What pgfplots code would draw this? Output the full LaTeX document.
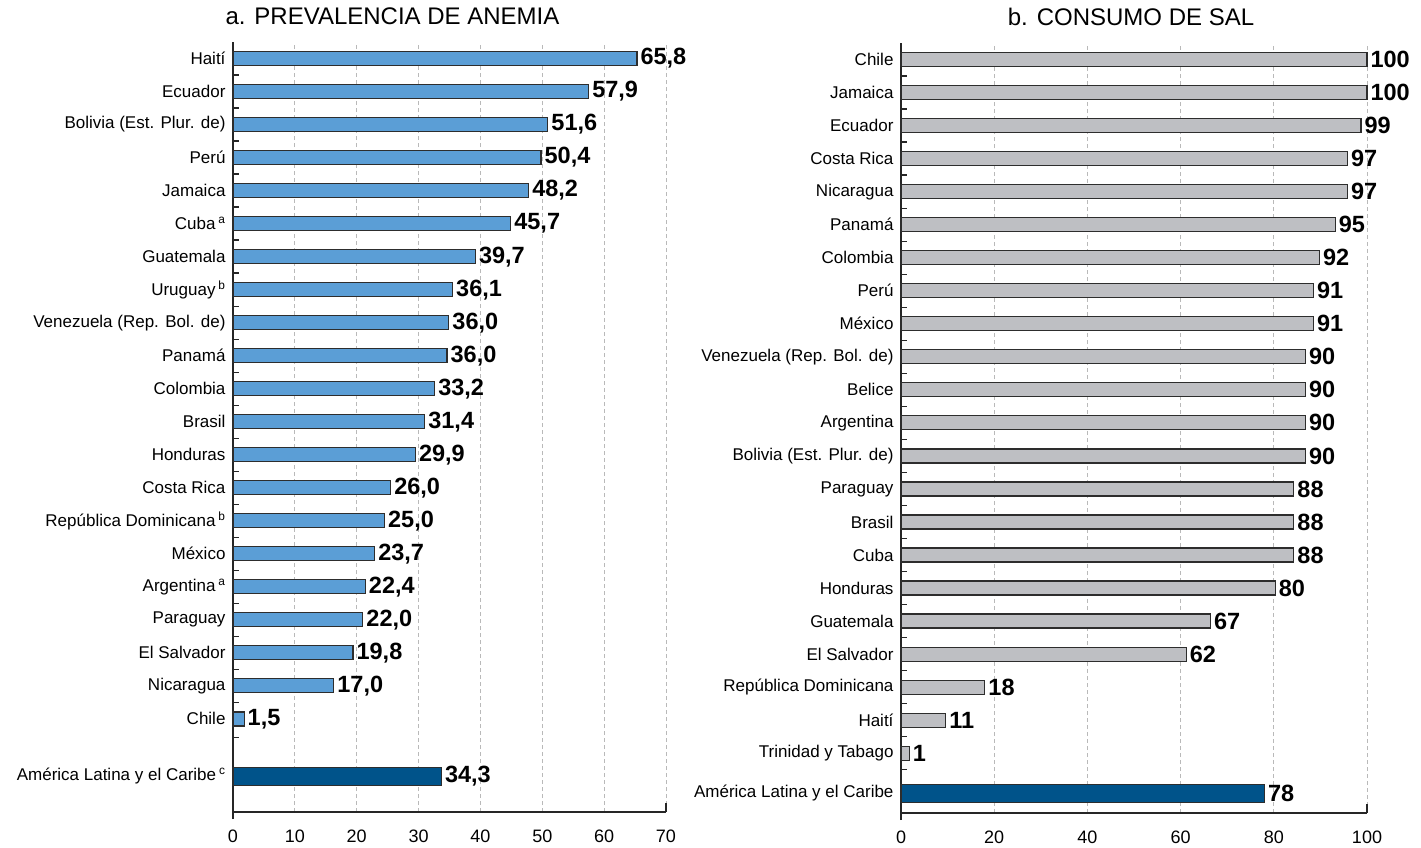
\documentclass[border=0pt]{standalone}
\usepackage{fontspec}
\setmainfont{Liberation Sans}
\usepackage{pgfplots}
\usepackage{pgfplotstable}
\pgfplotsset{compat=1.18}
\definecolor{lblue}{RGB}{91,158,214}
\definecolor{dblue}{RGB}{0,83,138}
\definecolor{lgray}{RGB}{190,191,195}
\definecolor{edge}{RGB}{45,45,45}
\definecolor{gridc}{RGB}{185,185,185}

% y = position, x = bar length as drawn, lab = printed value
\pgfplotstableread{
y x lab
21.74 65.3 65,8
20.74 57.5 57,9
19.74 50.9 51,6
18.74 49.8 50,4
17.74 47.8 48,2
16.74 44.9 45,7
15.74 39.2 39,7
14.74 35.5 36,1
13.74 34.9 36,0
12.74 34.6 36,0
11.74 32.6 33,2
10.74 31.0 31,4
9.74 29.5 29,9
8.74 25.5 26,0
7.74 24.5 25,0
6.74 22.9 23,7
5.74 21.4 22,4
4.74 21.0 22,0
3.74 19.4 19,8
2.74 16.3 17,0
1.74 1.8 1,5
}\anemia

\pgfplotstableread{
y x lab
0 33.7 34,3
}\anemiaalc

\pgfplotstableread{
y x lab
22.21 100 100
21.21 100 100
20.21 98.7 99
19.21 95.8 97
18.21 95.8 97
17.21 93.2 95
16.21 89.8 92
15.21 88.5 91
14.21 88.5 91
13.21 86.8 90
12.21 86.8 90
11.21 86.8 90
10.21 86.8 90
9.21 84.3 88
8.21 84.3 88
7.21 84.3 88
6.21 80.3 80
5.21 66.4 67
4.21 61.2 62
3.21 18.0 18
2.21 9.6 11
1.21 1.8 1
}\sal

\pgfplotstableread{
y x lab
0 78 78
}\salalc

\pgfplotsset{
 common/.style={
  scale only axis, height=770pt, clip=false,
  axis x line*=bottom, axis y line*=left,
  x axis line style={-, line width=1.2pt, color=black!85},
  y axis line style={-, line width=2.4pt, color=black!85, shorten <=-7pt},
  xmajorgrids,
  grid style={gridc, line width=0.8pt, dash pattern=on 4pt off 3pt},
  major tick length=0pt, minor tick length=6pt, tick align=inside,
  ytick pos=left,
  every minor tick/.append style={line width=1.3pt, black!85},
  yticklabel style={font=\fontsize{17}{20}\selectfont, xshift=-4pt},
  xticklabel style={font=\fontsize{18}{20}\selectfont, yshift=-14pt},
  /pgf/number format/assume math mode=true,
  title style={font=\fontsize{24}{28}\selectfont, at={(0.5,1)}, anchor=base, yshift=11.7pt},
  every node near coord/.append style={anchor=west, font=\fontsize{23.5}{26}\selectfont\bfseries, inner xsep=3pt, inner ysep=0pt, text=black},
 },
 bars/.style={xbar, bar shift=0pt, draw=edge, line width=1.2pt,
   point meta=explicit symbolic, nodes near coords={\pgfplotspointmeta}},
}

\begin{document}
\begin{tikzpicture}
\path[use as bounding box] (0pt,0pt) rectangle (1421pt,-847pt);

\begin{axis}[common,
  at={(233pt,-812pt)}, anchor=south west, width=433pt,
  xmin=0, xmax=70, ymin=-1.08, ymax=22.24,
  xtick={0,10,20,30,40,50,60,70},
  ytick={0,1.74,2.74,3.74,4.74,5.74,6.74,7.74,8.74,9.74,10.74,11.74,12.74,13.74,14.74,15.74,16.74,17.74,18.74,19.74,20.74,21.74},
  yticklabels={América Latina y el Caribe\,\textsuperscript{c}, Chile, Nicaragua, El Salvador, Paraguay, Argentina\,\textsuperscript{a}, México, República Dominicana\,\textsuperscript{b}, Costa Rica, Honduras, Brasil, Colombia, Panamá, Venezuela (Rep. Bol. de), Uruguay\,\textsuperscript{b}, Guatemala, Cuba\,\textsuperscript{a}, Jamaica, Perú, Bolivia (Est. Plur. de), Ecuador, Haití},
  minor ytick={1.17,2.24,3.24,4.24,5.24,6.24,7.24,8.24,9.24,10.24,11.24,12.24,13.24,14.24,15.24,16.24,17.24,18.24,19.24,20.24,21.24},
  title={a. PREVALENCIA DE ANEMIA},
  title style={xshift=-57pt},
]
\addplot[bars, bar width=14pt, fill=lblue] table[x=x, y=y, meta=lab]{\anemia};
\addplot[bars, bar width=18pt, fill=dblue] table[x=x, y=y, meta=lab]{\anemiaalc};
\draw[line width=1.2pt, black!85] (axis cs:70,-1.08) -- ++(0pt,9pt);
\end{axis}

\begin{axis}[common,
  at={(901pt,-813pt)}, anchor=south west, width=466pt,
  xmin=0, xmax=100, ymin=-0.6, ymax=22.71,
  xtick={0,20,40,60,80,100},
  ytick={0,1.21,2.21,3.21,4.21,5.21,6.21,7.21,8.21,9.21,10.21,11.21,12.21,13.21,14.21,15.21,16.21,17.21,18.21,19.21,20.21,21.21,22.21},
  yticklabels={América Latina y el Caribe, Trinidad y Tabago, Haití, República Dominicana, El Salvador, Guatemala, Honduras, Cuba, Brasil, Paraguay, Bolivia (Est. Plur. de), Argentina, Belice, Venezuela (Rep. Bol. de), México, Perú, Colombia, Panamá, Nicaragua, Costa Rica, Ecuador, Jamaica, Chile},
  minor ytick={0.71,1.71,2.71,3.71,4.71,5.71,6.71,7.71,8.71,9.71,10.71,11.71,12.71,13.71,14.71,15.71,16.71,17.71,18.71,19.71,20.71,21.71},
  title={b. CONSUMO DE SAL},
  title style={xshift=-3pt},
]
\addplot[bars, bar width=14pt, fill=lgray] table[x=x, y=y, meta=lab]{\sal};
\addplot[bars, bar width=18pt, fill=dblue] table[x=x, y=y, meta=lab]{\salalc};
\draw[line width=1.2pt, black!85] (axis cs:100,-0.6) -- ++(0pt,9pt);
\end{axis}
\end{tikzpicture}
\end{document}
